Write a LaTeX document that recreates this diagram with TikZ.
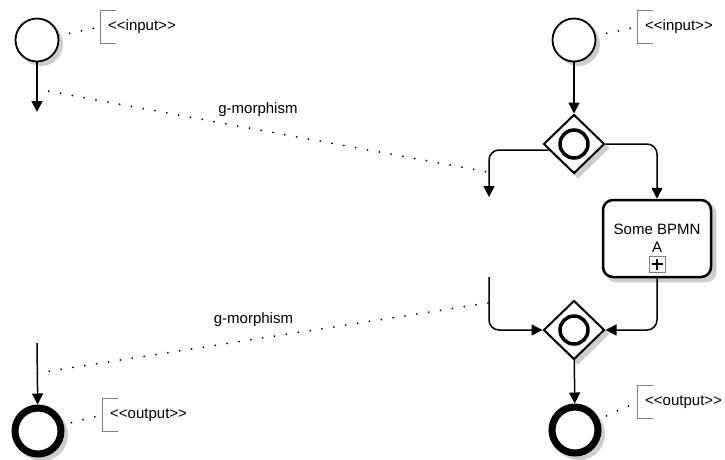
\documentclass[tikz,border=0pt]{standalone}
\usepackage{fontspec}
\setmainfont{Liberation Sans}
\usetikzlibrary{positioning, arrows.meta, shapes.geometric, backgrounds}
\definecolor{shadowgray}{RGB}{205,205,205}
\newcommand\dlt{<\kern0pt<}
\newcommand\dgt{>\kern0pt>}

\begin{document}
\begin{tikzpicture}[
        x=1pt, y=-1pt,
        font=\fontsize{15}{18}\selectfont,
        shadowfill/.style={draw=none, fill=shadowgray},
        startev/.style={draw, circle, minimum size=43pt, inner sep=0pt, line width=1.8pt, fill=white},
        endev/.style={draw, circle, minimum size=46pt, inner sep=0pt, line width=7pt, fill=white},
        gateway/.style={draw, diamond, minimum width=61pt, minimum height=59pt, inner sep=0pt, line width=2pt, fill=white,
            path picture={\draw[line width=3.5pt] (path picture bounding box.center) circle (14pt);}},
        taskbox/.style={draw, rectangle, rounded corners=10pt, minimum width=108pt, minimum height=77pt, align=center, line width=2.5pt, fill=white},
        plusbox/.style={draw=gray, minimum width=16pt, minimum height=16pt, inner sep=0pt, line width=1pt},
        anno/.style={minimum height=33pt, inner xsep=8pt, inner ysep=0pt, anchor=west},
        bracket/.style={draw=gray, line width=1pt},
        flow/.style={-{Triangle[length=11pt, width=11pt]}, line width=1.5pt, rounded corners=10pt},
        assoc/.style={line width=2pt, line cap=round, dash pattern=on 0pt off 12pt}
    ]
    \useasboundingbox (0,0) rectangle (725,459);

    % --- LEFT: abstract process ---
    \node[startev] (inl) at (37,40) {};
    \node[anno] (inl_note) at (100,27) {\dlt input\dgt};
    \coordinate (inl_end) at (37,112);
    \coordinate (outl_begin) at (37,343);
    \node[endev] (outl) at (38,431) {};
    \node[anno] (outl_note) at (102,415) {\dlt output\dgt};
    \draw[flow] (inl) -- (inl_end);
    \draw[flow] (outl_begin) -- (outl);

    % --- RIGHT: refined process ---
    \node[startev] (inr) at (574,40) {};
    \node[anno] (inr_note) at (637,27) {\dlt input\dgt};
    \node[gateway] (gsplit) at (574,144) {};
    \coordinate (split_end) at (489,197);
    \node[taskbox] (task) at (657,238.5) {Some BPMN\\A};
    \node[plusbox] (task_plus) at (657,264) {};
    \draw[line width=1.5pt] ([xshift=-5.5pt]task_plus.center) -- ([xshift=5.5pt]task_plus.center);
    \draw[line width=1.5pt] ([yshift=-5.5pt]task_plus.center) -- ([yshift=5.5pt]task_plus.center);
    \coordinate (join_begin) at (489,277);
    \node[gateway] (gjoin) at (574,330) {};
    \node[endev] (outr) at (575,430) {};
    \node[anno] (outr_note) at (637,402) {\dlt output\dgt};
    \draw[flow] (inr) -- (gsplit);
    \draw[flow] ([xshift=6pt, yshift=-6pt]gsplit.west) -| (split_end);
    \draw[flow] (gsplit.east) -| (task);
    \draw[flow] (join_begin) |- (gjoin.west);
    \draw[flow] (task) |- (gjoin.east);
    \draw[flow] (gjoin) -- (outr);

    % --- shadows ---
    \begin{scope}[on background layer]
        \foreach \n in {inl, inr}
            \path[shadowfill] ([shift={(4,4)}]\n.center) circle (22);
        \foreach \n in {outl, outr}
            \path[shadowfill] ([shift={(4,4)}]\n.center) circle (26);
        \foreach \n in {gsplit, gjoin}
            \path[shadowfill] ([shift={(4,4)}]\n.north) -- ([shift={(4,4)}]\n.east) -- ([shift={(4,4)}]\n.south) -- ([shift={(4,4)}]\n.west) -- cycle;
        \path[shadowfill, rounded corners=10pt] ([shift={(4,4)}]task.north west) rectangle ([shift={(4,4)}]task.south east);
    \end{scope}

    % --- annotations ---
    \foreach \n in {inl_note, inr_note, outl_note, outr_note}
        \draw[bracket] ([xshift=16pt]\n.north west) -- (\n.north west) -- (\n.south west) -- ++(16,0);
    \draw[assoc, shorten <=11pt, shorten >=5pt] (inl) -- (inl_note.west);
    \draw[assoc, shorten <=11pt, shorten >=5pt] (inr) -- (inr_note.west);
    \draw[assoc, shorten <=8pt, shorten >=5pt] (outl) -- (outl_note.west);
    \draw[assoc, shorten <=8pt, shorten >=5pt] (outr) -- (outr_note.west);

    % --- g-morphism links ---
    \coordinate (m1a) at (37,89);
    \coordinate (m1b) at (488,172);
    \coordinate (m2a) at (488,303);
    \coordinate (m2b) at (37,373);
    \draw[assoc] (m1a) -- node[pos=0.49, above=12pt, inner sep=0pt] (m1_lbl) {g-morphism} (m1b);
    \draw[assoc] (m2a) -- node[pos=0.52, above=12pt, inner sep=0pt] (m2_lbl) {g-morphism} (m2b);
\end{tikzpicture}
\end{document}
